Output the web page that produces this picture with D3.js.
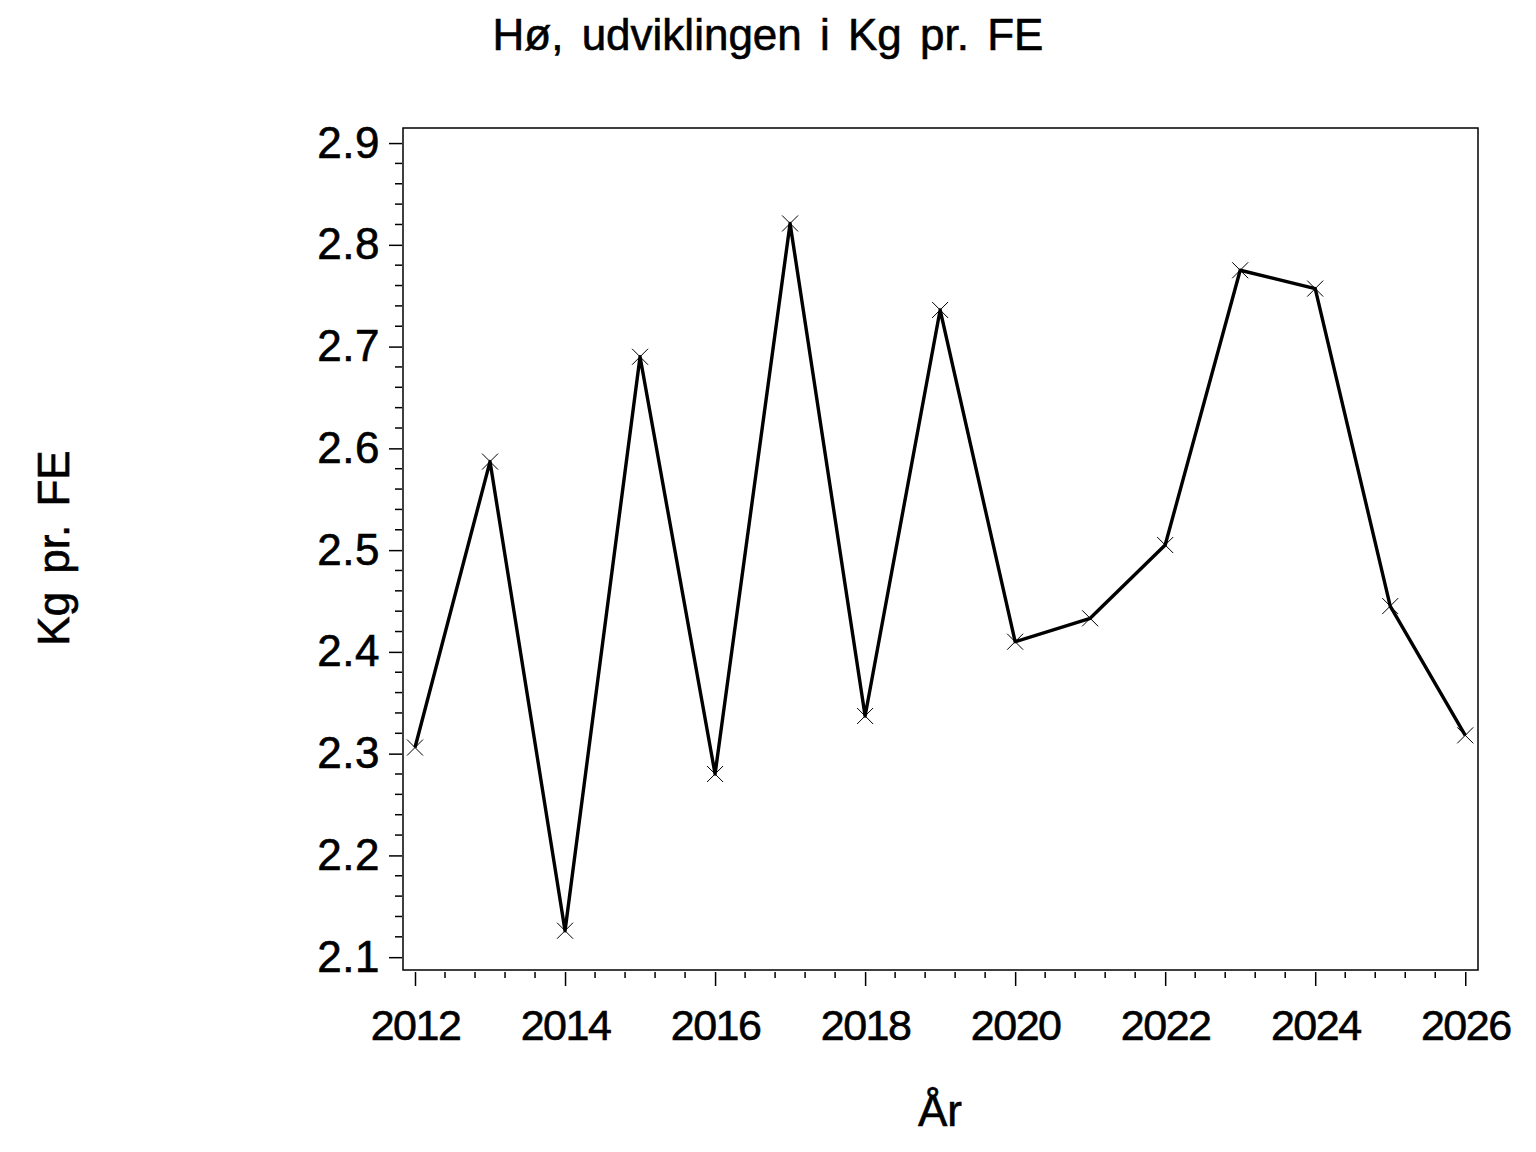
<!DOCTYPE html>
<html>
<head>
<meta charset="utf-8">
<script src="https://cdn.jsdelivr.net/npm/d3@7"></script>
<style>
  body { margin: 0; background: #fff; }
  text { font-family: "Liberation Sans", Arial, sans-serif; fill: #000; stroke: #000; stroke-width: 0.6px; }
</style>
</head>
<body>
<div id="chart"></div>
<script>
// data
const years = [2012, 2013, 2014, 2015, 2016, 2017, 2018, 2019, 2020, 2021, 2022, 2023, 2024, 2025, 2026];
const kgPerFE = [2.306, 2.587, 2.126, 2.690, 2.280, 2.821, 2.337, 2.736, 2.410, 2.433, 2.505, 2.775, 2.757, 2.445, 2.318];
const xTicks = [2012, 2014, 2016, 2018, 2020, 2022, 2024, 2026];
const yTicks = [2.1, 2.2, 2.3, 2.4, 2.5, 2.6, 2.7, 2.8, 2.9];

const W = 1536, H = 1152;
const margin = {top: 128, right: 58, bottom: 182, left: 403};
const width = W - margin.left - margin.right;
const height = H - margin.top - margin.bottom;

const svg = d3.select("#chart").append("svg")
    .attr("width", W)
    .attr("height", H);

const g = svg.append("g")
    .attr("transform", "translate(" + margin.left + "," + margin.top + ")");

// scales: 2012 sits 12px in from the frame, 2026 about 13px in
const x = d3.scaleLinear().domain([2011.84, 2026.17]).range([0, width]);
const y = d3.scaleLinear().domain([2.0874, 2.9148]).range([height, 0]);

// frame
g.append("rect")
    .attr("width", width)
    .attr("height", height)
    .attr("fill", "none")
    .attr("stroke", "#000")
    .attr("stroke-width", 1.5);

// x axis (major + minor ticks, hanging below frame)
const xMinor = d3.range(2012, 2026.01, 0.4).filter(v => !xTicks.some(t => Math.abs(t - v) < 1e-6));
const xAxis = g.append("g").attr("transform", "translate(0," + (height + 2) + ")");
xAxis.selectAll("line.minor").data(xMinor).enter().append("line")
    .attr("x1", d => x(d)).attr("x2", d => x(d))
    .attr("y1", 0).attr("y2", 6)
    .attr("stroke", "#000").attr("stroke-width", 1.5);
xAxis.call(d3.axisBottom(x).tickValues(xTicks).tickFormat(d3.format("d")).tickSize(14).tickPadding(23))
    .call(a => a.select(".domain").remove())
    .call(a => a.selectAll(".tick line").attr("stroke-width", 1.5))
    .call(a => a.selectAll(".tick text")
        .attr("font-size", 43)
        .attr("font-family", "Liberation Sans, Arial, sans-serif")
        .attr("letter-spacing", -1.5));

// y axis
const yMinor = d3.range(2.1, 2.9001, 0.02).filter(v => !yTicks.some(t => Math.abs(t - v) < 1e-6));
const yAxis = g.append("g").attr("transform", "translate(-1,0)");
yAxis.selectAll("line.minor").data(yMinor).enter().append("line")
    .attr("x1", -7).attr("x2", 0)
    .attr("y1", d => y(d)).attr("y2", d => y(d))
    .attr("stroke", "#000").attr("stroke-width", 1.5);
yAxis.call(d3.axisLeft(y).tickValues(yTicks).tickFormat(d3.format(".1f")).tickSize(13).tickPadding(9))
    .call(a => a.select(".domain").remove())
    .call(a => a.selectAll(".tick line").attr("stroke-width", 1.5))
    .call(a => a.selectAll(".tick text")
        .attr("font-size", 44)
        .attr("font-family", "Liberation Sans, Arial, sans-serif")
        .attr("letter-spacing", 0.5));

// line
const line = d3.line()
    .x((d, i) => x(years[i]))
    .y(d => y(d));

g.append("path")
    .datum(kgPerFE)
    .attr("fill", "none")
    .attr("stroke", "#000")
    .attr("stroke-width", 3.4)
    .attr("stroke-linejoin", "round")
    .attr("d", line);

// x markers
const m = 8;
const marks = g.selectAll("g.mark").data(kgPerFE).enter().append("g")
    .attr("transform", (d, i) => "translate(" + x(years[i]) + "," + y(d) + ")");
marks.append("line").attr("x1", -m).attr("y1", -m).attr("x2", m).attr("y2", m)
    .attr("stroke", "#000").attr("stroke-width", 1);
marks.append("line").attr("x1", -m).attr("y1", m).attr("x2", m).attr("y2", -m)
    .attr("stroke", "#000").attr("stroke-width", 1);

// title and axis labels
svg.append("text")
    .attr("x", 768).attr("y", 50)
    .attr("text-anchor", "middle")
    .attr("font-size", 44)
    .attr("word-spacing", 6)
    .text("Hø, udviklingen i Kg pr. FE");

svg.append("text")
    .attr("x", 940).attr("y", 1126)
    .attr("text-anchor", "middle")
    .attr("font-size", 44)
    .text("År");

svg.append("text")
    .attr("transform", "translate(69,548) rotate(-90)")
    .attr("text-anchor", "middle")
    .attr("font-size", 44)
    .attr("word-spacing", 6)
    .text("Kg pr. FE");
</script>
</body>
</html>
